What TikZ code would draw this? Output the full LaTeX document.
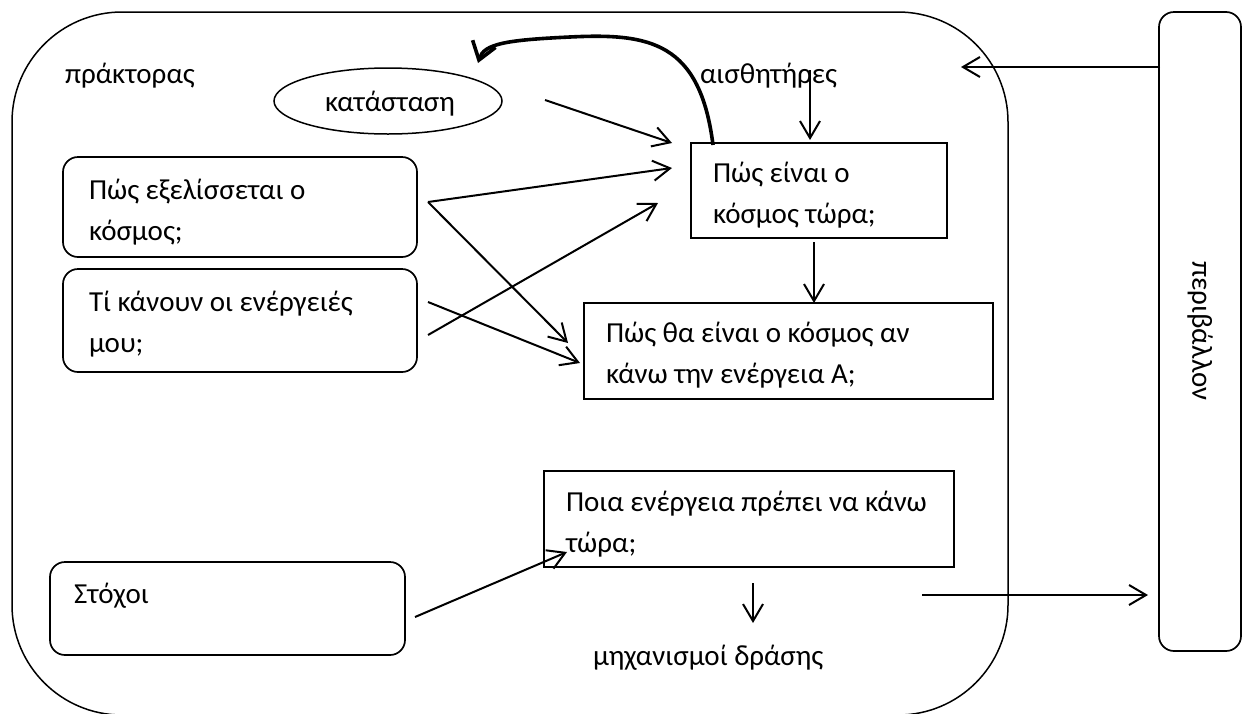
\documentclass[tikz,border=0pt]{standalone}
\usepackage{fontspec}
\setmainfont{Carlito}
\usetikzlibrary{arrows.meta,shapes.geometric}

\begin{document}
\begin{tikzpicture}[x=1pt,y=-1pt,
  every node/.style={font=\fontsize{29}{40.5}\selectfont, inner sep=0pt, outer sep=0pt},
  % anchored at the baseline of the last line of the text
  txt/.style={anchor=base west, align=left},
  boxbase/.style={draw, line width=1.7pt, anchor=north west},
  sqbox/.style={boxbase},
  rbox/.style={boxbase, rounded corners=15pt},
  link/.style={line width=2pt, -{Straight Barb[length=17pt,width=20pt]}},
  feedback/.style={line width=3.6pt, -{Straight Barb[length=17pt,width=24pt]}}
]
\useasboundingbox (0,0) rectangle (1249,713);

% agent and its environment
\node[draw, line width=1.5pt, rounded corners=110pt, anchor=north west,
      minimum width=996pt, minimum height=703pt] (agent) at (12,12) {};
\node[rbox, minimum width=82pt, minimum height=639pt] (env) at (1159,12) {};
\node[rotate=-90] (envlabel) at (1200,331) {περιβάλλον};

% labels inside the agent
\node[txt] (agentlabel) at (65,83) {πράκτορας};
\node[txt] (sensors) at (700,83) {αισθητήρες};
\node[txt] (effectors) at (593,665) {μηχανισμοί δράσης};

% internal state
\node[draw, ellipse, line width=1.5pt, minimum width=228pt, minimum height=66pt] (state) at (388,101) {};
\node (statelabel) at (390,104) {κατάσταση};

% knowledge boxes
\node[rbox, minimum width=354pt, minimum height=100pt] (evolve) at (63,157) {};
\node[txt] (evolvetext) at (89,240) {Πώς εξελίσσεται ο\\κόσμος;};

\node[rbox, minimum width=354pt, minimum height=103pt] (acts) at (63,269) {};
\node[txt] (actstext) at (89,352) {Τί κάνουν οι ενέργειές\\μου;};

\node[rbox, minimum width=355pt, minimum height=93pt] (goals) at (50,562) {};
\node[txt] (goalstext) at (74,603) {Στόχοι};

% reasoning boxes
\node[sqbox, minimum width=256pt, minimum height=95pt] (now) at (691,143) {};
\node[txt] (nowtext) at (713,223) {Πώς είναι ο\\κόσμος τώρα;};

\node[sqbox, minimum width=409pt, minimum height=96pt] (future) at (584,303) {};
\node[txt] (futuretext) at (606,383) {Πώς θα είναι ο κόσμος αν\\κάνω την ενέργεια Α;};

\node[sqbox, minimum width=410pt, minimum height=96pt] (decide) at (544,471) {};
\node[txt] (decidetext) at (566,552) {Ποια ενέργεια πρέπει να κάνω\\τώρα;};

% connectors
\draw[link] ([shift={(43,-1)}]state.east) -- ([shift={(-19,0)}]now.north west);
\draw[link] ([shift={(11,-5)}]evolve.east) -- ([shift={(-19,-22.5)}]now.west);
\draw[link] ([shift={(11,-5)}]evolve.east) -- ([shift={(-16,-8)}]future.west);
\draw[link] ([shift={(11,-18.5)}]acts.east) -- ([shift={(-4,12)}]future.west);
\draw[link] ([shift={(11,14.5)}]acts.east) -- ([shift={(-33,12.5)}]now.west);
\draw[link] ([shift={(-5,4)}]now.south) -- ([shift={(-5,65)}]now.south);
\draw[link] ([shift={(-9,-73)}]now.north) -- ([shift={(-9,-3)}]now.north);
\draw[link] ([shift={(10,8.5)}]goals.east) -- ([shift={(23,-15)}]decide.south west);
\draw[link] ([shift={(4,16)}]decide.south) -- ([shift={(4,56)}]decide.south);
\draw[link] ([shift={(1,55)}]env.north west) -- ([shift={(-47,55)}]agent.north east);
\draw[link] ([shift={(-86,231.5)}]agent.east) -- ([shift={(-11,263.5)}]env.west);

% update of the internal state
\draw[feedback] ([shift={(22,2)}]now.north west)
  .. controls (700,42) and (650,33) .. (570,37)
  .. controls (505,40) and (484,44) .. ([shift={(90,-5)}]state.north);
\end{tikzpicture}
\end{document}
